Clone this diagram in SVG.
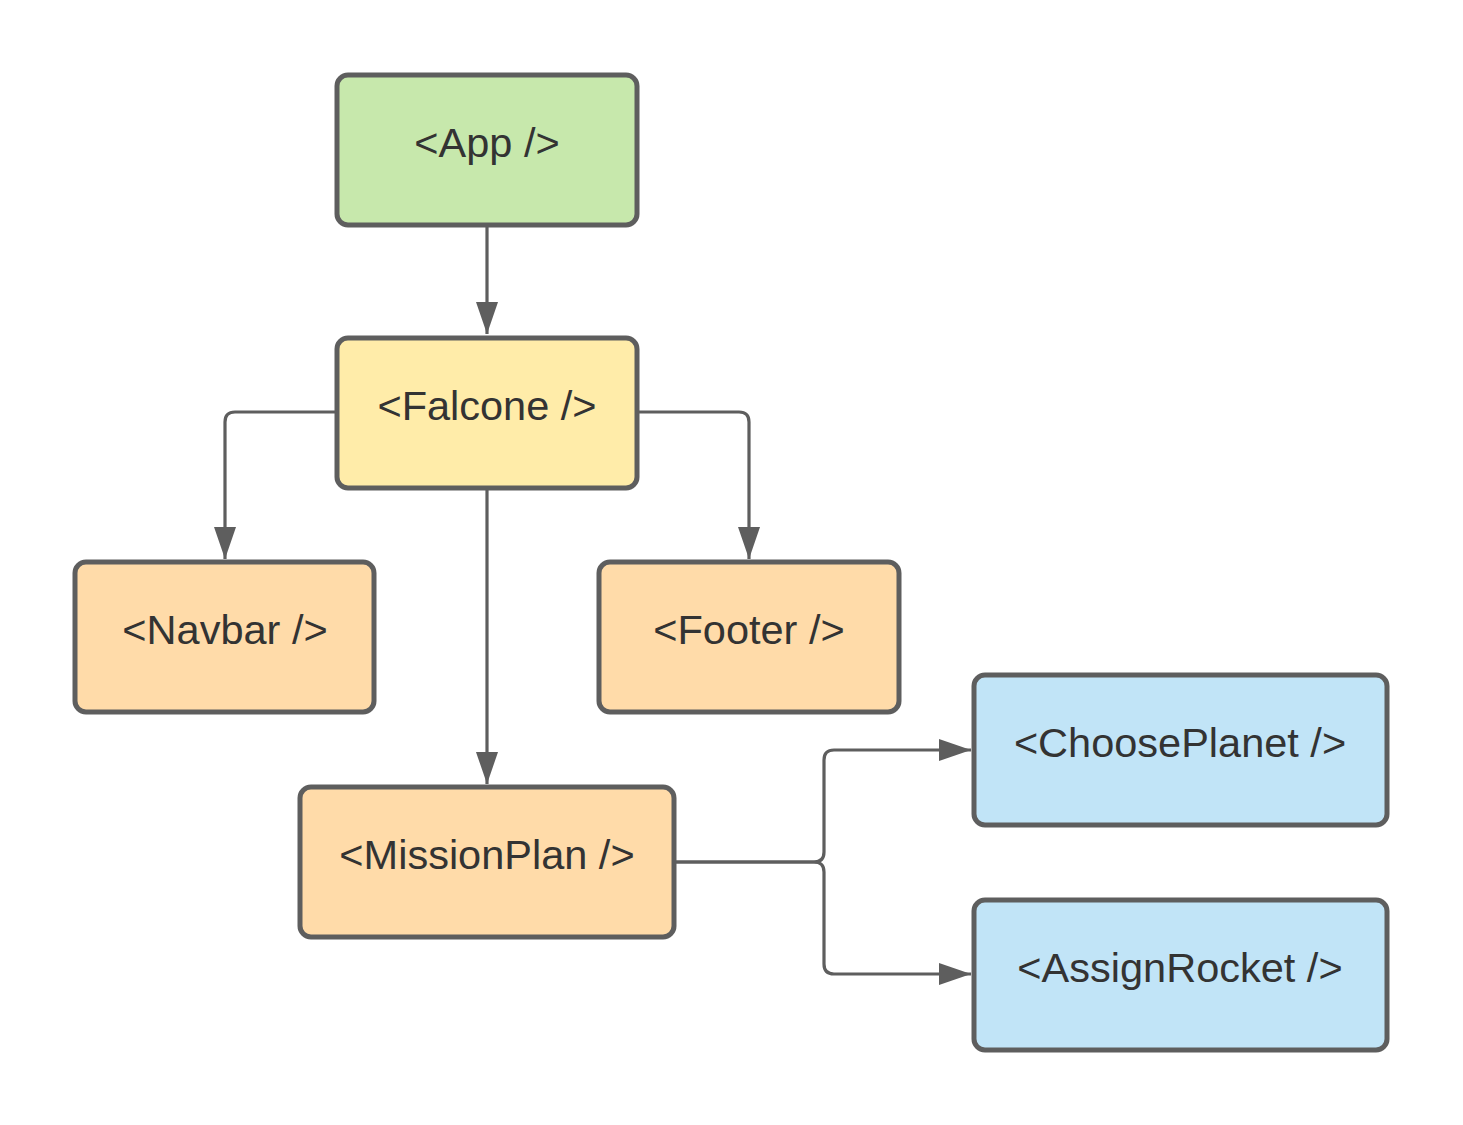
<svg xmlns="http://www.w3.org/2000/svg" width="1463" height="1125" viewBox="0 0 1463 1125">
<defs>
<style>
.box{stroke:#5e5e5e;stroke-width:5}
.lbl{font-family:"Liberation Sans",Arial,sans-serif;font-size:41.5px;fill:#333333;text-anchor:middle}
.edge{fill:none;stroke:#5e5e5e;stroke-width:3.2}
.green{fill:#c7e8ac}.yellow{fill:#ffeca9}.orange{fill:#ffdba9}.blue{fill:#c1e4f7}
</style>
<marker id="arr" viewBox="0 0 32 22" refX="32" refY="11" markerWidth="32" markerHeight="22" markerUnits="userSpaceOnUse" orient="auto">
<path d="M0,0 L32,11 L0,22 Z" fill="#5e5e5e"/>
</marker>
</defs>
<rect width="1463" height="1125" fill="#ffffff"/>
<g id="connectors">
<path class="edge" d="M487,226 L487,334" marker-end="url(#arr)"/>
<path class="edge" d="M336,412 L235,412 Q225,412 225,422 L225,559" marker-end="url(#arr)"/>
<path class="edge" d="M638,412 L739,412 Q749,412 749,422 L749,559" marker-end="url(#arr)"/>
<path class="edge" d="M487,490 L487,784" marker-end="url(#arr)"/>
<path class="edge" d="M676,862 L814,862 Q824,862 824,852 L824,760 Q824,750 834,750 L971,750" marker-end="url(#arr)"/>
<path class="edge" d="M676,862 L814,862 Q824,862 824,872 L824,964 Q824,974 834,974 L971,974" marker-end="url(#arr)"/>
</g>
<g id="app">
<rect class="box green" x="337" y="75" width="300" height="150" rx="11"/>
<text class="lbl" x="487" y="157">&lt;App /&gt;</text>
</g>
<g id="falcone">
<rect class="box yellow" x="337" y="338" width="300" height="150" rx="11"/>
<text class="lbl" x="487" y="420">&lt;Falcone /&gt;</text>
</g>
<g id="navbar">
<rect class="box orange" x="75" y="562" width="299" height="150" rx="11"/>
<text class="lbl" x="225" y="644">&lt;Navbar /&gt;</text>
</g>
<g id="footer">
<rect class="box orange" x="599" y="562" width="300" height="150" rx="11"/>
<text class="lbl" x="749" y="644">&lt;Footer /&gt;</text>
</g>
<g id="missionplan">
<rect class="box orange" x="300" y="787" width="374" height="150" rx="11"/>
<text class="lbl" x="487" y="869">&lt;MissionPlan /&gt;</text>
</g>
<g id="chooseplanet">
<rect class="box blue" x="974" y="675" width="413" height="150" rx="11"/>
<text class="lbl" x="1180" y="757">&lt;ChoosePlanet /&gt;</text>
</g>
<g id="assignrocket">
<rect class="box blue" x="974" y="900" width="413" height="150" rx="11"/>
<text class="lbl" x="1180" y="982">&lt;AssignRocket /&gt;</text>
</g>
</svg>
